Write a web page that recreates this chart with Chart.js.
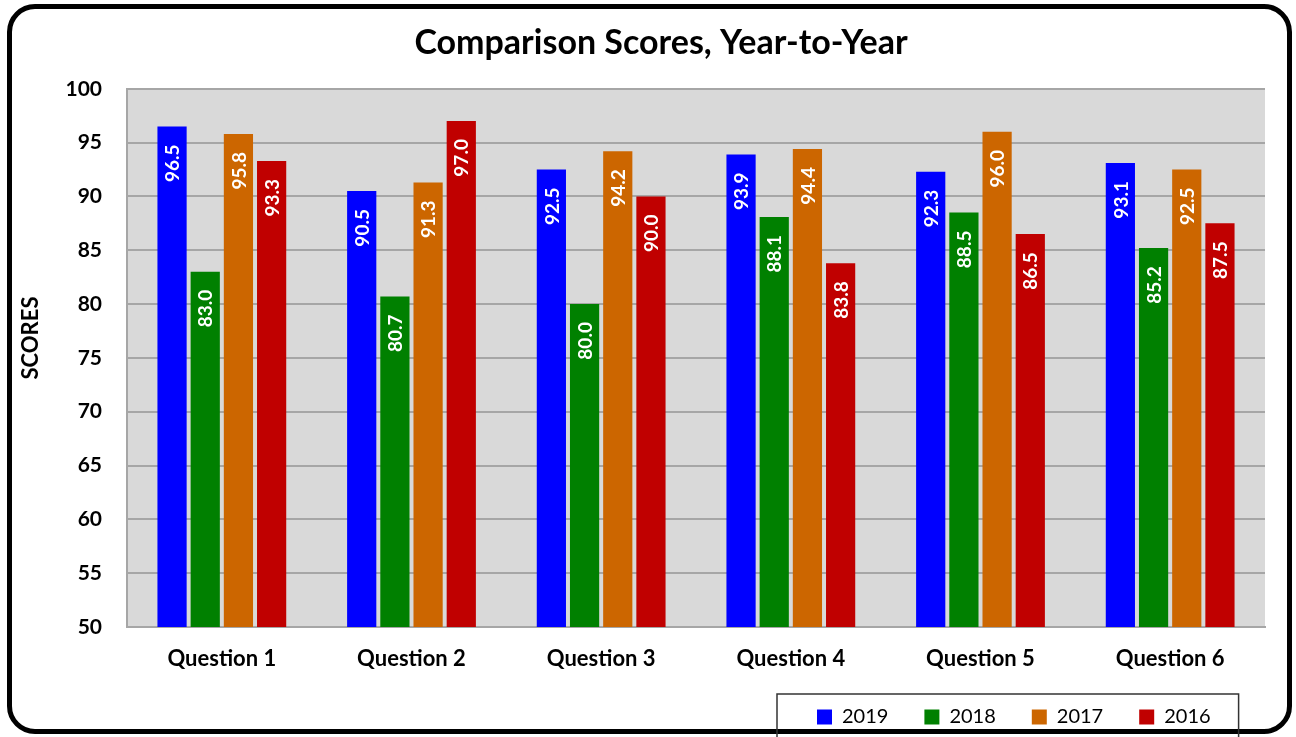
<!DOCTYPE html>
<html>
<head>
<meta charset="utf-8">
<title>Comparison Scores, Year-to-Year</title>
<script src="https://cdn.jsdelivr.net/npm/chart.js@4.4.0/dist/chart.umd.min.js"></script>
<style>
    body { margin: 0; background: #fff; }
    #frame {
        position: absolute; left: 7px; top: 4px; width: 1285px; height: 730px;
        box-sizing: border-box; border: 5px solid #000; border-radius: 28px;
    }
    #wrap { position: absolute; left: 0; top: 0; width: 1296px; height: 737px; }
</style>
</head>
<body>
<div id="frame"></div>
<div id="wrap"><canvas id="scoreChart"></canvas></div>
<script>

const questions = ['Question 1', 'Question 2', 'Question 3', 'Question 4', 'Question 5', 'Question 6'];
const years = ['2019', '2018', '2017', '2016'];

const scores2019 = [96.5, 90.5, 92.5, 93.9, 92.3, 93.1];
const scores2018 = [83.0, 80.7, 80.0, 88.1, 88.5, 85.2];
const scores2017 = [95.8, 91.3, 94.2, 94.4, 96.0, 92.5];
const scores2016 = [93.3, 97.0, 90.0, 83.8, 86.5, 87.5];

const yearColors = ['#0000ff', '#008000', '#cc6600', '#c00000'];
const yTitle = 'SCORES';

Chart.defaults.font.family = 'Lato';
Chart.defaults.color = '#000';

// grey plot background behind the grid
const plotBackground = {
    id: 'plotBackground',
    beforeDraw(chart) {
        const { ctx, chartArea: a } = chart;
        ctx.save();
        ctx.fillStyle = '#d9d9d9';
        ctx.fillRect(a.left, a.top, a.right - a.left, a.bottom - a.top);
        ctx.restore();
    }
};

// white rotated values inside the top of each bar
const barValueLabels = {
    id: 'barValueLabels',
    afterDatasetsDraw(chart) {
        const ctx = chart.ctx;
        ctx.save();
        ctx.fillStyle = '#fff';
        ctx.font = 'bold 19px Lato';
        ctx.textAlign = 'right';
        ctx.textBaseline = 'middle';
        chart.data.datasets.forEach((ds, i) => {
            chart.getDatasetMeta(i).data.forEach((bar, j) => {
                ctx.save();
                ctx.translate(bar.x + 1, bar.y + 18);
                ctx.rotate(-Math.PI / 2);
                ctx.fillText(ds.data[j].toFixed(1), 0, 0);
                ctx.restore();
            });
        });
        ctx.restore();
    }
};

// shift title and legend like the original, box the legend, y title a bit above centre
const layoutTweaks = {
    id: 'layoutTweaks',
    afterLayout(chart) {
        chart.titleBlock.left = 57;
        chart.titleBlock.right = chart.chartArea.right;
        const lg = chart.legend;
        const h = lg.bottom - lg.top;
        lg.left = 781;
        lg.top = 671;
        lg.bottom = 671 + h;
    },
    afterDraw(chart) {
        const ctx = chart.ctx;
        const boxes = chart.legend.legendHitBoxes;
        ctx.save();
        if (boxes.length) {
            const first = boxes[0];
            const last = boxes[boxes.length - 1];
            const x0 = first.left - 40;
            const x1 = last.left + last.width + 28;
            ctx.strokeStyle = '#333';
            ctx.lineWidth = 1.5;
            ctx.strokeRect(x0, first.top - 13, x1 - x0, 80);
        }
        ctx.fillStyle = '#000';
        ctx.font = 'bold 22px Lato';
        ctx.textAlign = 'center';
        ctx.textBaseline = 'middle';
        ctx.translate(31, 338);
        ctx.rotate(-Math.PI / 2);
        ctx.fillText(yTitle, 0, 0);
        ctx.restore();
    }
};

const ctxScores = document.getElementById('scoreChart').getContext('2d');
const scoreChart = new Chart(ctxScores, {

    type: 'bar',

    data: {

        labels: questions,

        datasets: [
            { label: years[0], data: scores2019, backgroundColor: yearColors[0] },
            { label: years[1], data: scores2018, backgroundColor: yearColors[1] },
            { label: years[2], data: scores2017, backgroundColor: yearColors[2] },
            { label: years[3], data: scores2016, backgroundColor: yearColors[3] }
        ]
    },
    options: {
        responsive: true,
        maintainAspectRatio: false,
        animation: false,
        datasets: { bar: { categoryPercentage: 0.7, barPercentage: 0.88 } },
        layout: { padding: { left: 15, right: 31, top: 0, bottom: -16 } },
        plugins: {
            title: {
                display: true,
                text: 'Comparison Scores, Year-to-Year',
                font: { size: 34, weight: 'bold' },
                color: '#000',
                padding: { top: 23, bottom: 25 }
            },
            legend: {
                position: 'bottom',
                align: 'start',
                labels: {
                    boxWidth: 15,
                    boxHeight: 15,
                    padding: 36,
                    color: '#000',
                    font: { size: 20 }
                }
            },
            tooltip: { enabled: false }
        },
        scales: {
            x: {
                grid: { display: false, drawTicks: false },
                border: { display: true, color: '#a6a6a6', width: 2 },
                ticks: { font: { size: 22, weight: 'bold' }, padding: 19, color: '#000' },
                afterFit: (scale) => { scale.height = 60; }
            },
            y: {
                min: 50,
                max: 100,
                ticks: { stepSize: 5, font: { size: 21, weight: 'bold' }, padding: 25, color: '#000' },
                grid: { color: '#a6a6a6', lineWidth: 2, drawTicks: false },
                border: { display: true, color: '#a6a6a6', width: 2 },
                afterFit: (scale) => { scale.width = 112; }
            }
        }
    },
    plugins: [plotBackground, barValueLabels, layoutTweaks]
});

</script>
</body>
</html>
